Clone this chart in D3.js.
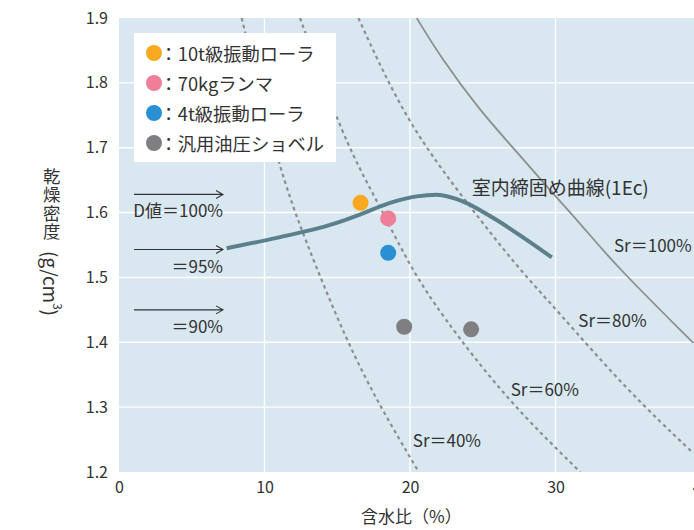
<!DOCTYPE html>
<html lang="ja">
<head>
<meta charset="utf-8">
<script src="https://cdn.jsdelivr.net/npm/d3@7"></script>
<style>
  html, body { margin: 0; padding: 0; background: #fff; }
  svg { display: block; }
  text { font-family: "Noto Sans CJK JP", "Noto Sans", sans-serif; fill: #333; }
</style>
</head>
<body>
<svg id="chart" width="694" height="530"></svg>
<script>
// Axis ticks
const xTicks = [0, 10, 20, 30, 40];
const yTicks = [1.2, 1.3, 1.4, 1.5, 1.6, 1.7, 1.8, 1.9];

// Saturation curves: [water content %, dry density g/cm3]
const sr100 = [[20.46, 1.9], [22.06, 1.841], [24.81, 1.757], [27.1, 1.70], [29.39, 1.640], [31.68, 1.584], [33.97, 1.522], [39.47, 1.399]];
const sr80 = [[16.45, 1.9], [19.77, 1.738], [24.12, 1.609], [27.33, 1.517], [30.08, 1.45], [34.89, 1.3265], [39.47, 1.229]];
const sr60 = [[12.44, 1.9], [14.96, 1.743], [16.56, 1.666], [17.94, 1.609], [20.0, 1.517], [22.06, 1.445], [26.65, 1.311], [31.7, 1.2]];
const sr40 = [[8.43, 1.9], [10.95, 1.671], [12.78, 1.558], [15.65, 1.401], [17.94, 1.301], [20.6, 1.2]];

// Laboratory compaction curve (1Ec)
const compaction = [[7.40, 1.545], [10.84, 1.561], [14.96, 1.584], [16.56, 1.597], [18.63, 1.615], [20.46, 1.625], [21.83, 1.6275], [23.66, 1.617], [25.73, 1.5915], [28.02, 1.558], [29.74, 1.531]];

// Field measurements by compaction equipment
const machines = ["10t級振動ローラ", "70kgランマ", "4t級振動ローラ", "汎用油圧ショベル"];
const machineColors = ["#f8a91f", "#ef7f99", "#2b90d3", "#7f7f82"];
const fieldPoints = [
  { m: 0, w: 16.6, d: 1.615 },
  { m: 1, w: 18.5, d: 1.591 },
  { m: 2, w: 18.5, d: 1.538 },
  { m: 3, w: 19.6, d: 1.424 },
  { m: 3, w: 24.2, d: 1.420 }
];

// Degree of compaction reference levels
const dLevels = [1.628, 1.543, 1.45];
const dLabels = ["D値＝100%", "＝95%", "＝90%"];

const svg = d3.select("#chart");
const x = d3.scaleLinear().domain([0, 40]).range([119, 701]);
const y = d3.scaleLinear().domain([1.2, 1.9]).range([472, 18]);

const plotW = x(40) - x(0), plotH = y(1.2) - y(1.9);

svg.append("defs").append("clipPath").attr("id", "plot-clip")
  .append("rect").attr("x", x(0)).attr("y", y(1.9)).attr("width", plotW).attr("height", plotH);

// Plot background
svg.append("rect").attr("x", x(0)).attr("y", y(1.9)).attr("width", plotW).attr("height", plotH)
  .attr("fill", "#d8e7f0");

// Grid
const grid = svg.append("g");
grid.selectAll(".gx").data(xTicks.filter(t => t > 0)).join("line")
  .attr("x1", d => x(d)).attr("x2", d => x(d)).attr("y1", y(1.9)).attr("y2", y(1.2))
  .attr("stroke", "#fff").attr("stroke-width", 1.4);
grid.selectAll(".gy").data(yTicks.filter(t => t > 1.2 && t < 1.9)).join("line")
  .attr("x1", x(0)).attr("x2", x(40)).attr("y1", d => y(d)).attr("y2", d => y(d))
  .attr("stroke", "#fff").attr("stroke-width", 1.4);

const smooth = d3.line().x(d => x(d[0])).y(d => y(d[1])).curve(d3.curveBasis);
const line = d3.line().x(d => x(d[0])).y(d => y(d[1])).curve(d3.curveMonotoneX);
const plot = svg.append("g").attr("clip-path", "url(#plot-clip)");

[sr80, sr60, sr40].forEach(c => {
  plot.append("path").attr("d", smooth(c)).attr("fill", "none")
    .attr("stroke", "#8d8d92").attr("stroke-width", 2.2).attr("stroke-dasharray", "3.5,3.5");
});
plot.append("path").attr("d", smooth(sr100)).attr("fill", "none")
  .attr("stroke", "#8e8e8e").attr("stroke-width", 1.8);

plot.append("path").attr("d", line(compaction)).attr("fill", "none")
  .attr("stroke", "#5b7f8b").attr("stroke-width", 4).attr("stroke-linecap", "butt");

// Axes
const xAxis = svg.append("g").attr("transform", `translate(0,${y(1.2)})`)
  .call(d3.axisBottom(x).tickValues(xTicks).tickSize(0).tickPadding(10).tickFormat(d3.format("d")));
const yAxis = svg.append("g").attr("transform", `translate(${x(0)},0)`)
  .call(d3.axisLeft(y).tickValues(yTicks).tickSize(0).tickPadding(11).tickFormat(d3.format(".1f")));
[xAxis, yAxis].forEach(a => {
  a.select(".domain").remove();
  a.selectAll("text").attr("font-size", 16).attr("fill", "#333")
    .style("font-family", "'Noto Sans CJK JP', sans-serif");
});

// Axis titles
svg.append("text").attr("x", 361).attr("y", 515).attr("dominant-baseline", "central")
  .attr("font-size", 17).text("含水比（%）");

const yTitle = svg.append("g");
yTitle.append("text").attr("x", 51.7).attr("y", 167.5)
  .style("writing-mode", "vertical-rl").style("letter-spacing", "1px")
  .attr("font-size", 17.4).text("乾燥密度");
const unit = yTitle.append("text").attr("transform", "translate(51.7,251) rotate(90)")
  .attr("dominant-baseline", "central").attr("font-size", 19);
unit.append("tspan").text("(g/cm");
unit.append("tspan").attr("font-size", 11.5).attr("dy", -6.5).text("3");
unit.append("tspan").attr("dy", 6.5).text(")");

// Degree of compaction arrows
const arrows = svg.append("g");
dLevels.forEach((lv, i) => {
  const yy = y(lv), x1 = 134, x2 = 223;
  arrows.append("path")
    .attr("d", `M${x1},${yy}H${x2}M${x2 - 7},${yy - 4}L${x2},${yy}L${x2 - 7},${yy + 4}`)
    .attr("fill", "none").attr("stroke", "#333").attr("stroke-width", 1.1);
  arrows.append("text").attr("x", x2).attr("y", yy + 15.5).attr("text-anchor", "end")
    .attr("dominant-baseline", "central").attr("font-size", 17).text(dLabels[i]);
});

// Curve labels
const labels = svg.append("g").attr("font-size", 17);
labels.append("text").attr("x", x(24.24)).attr("y", y(1.6403)).attr("dominant-baseline", "central")
  .attr("font-size", 19).text("室内締固め曲線(1Ec)");
[["Sr＝100%", 34.02, 1.5503], ["Sr＝80%", 31.57, 1.4346], ["Sr＝60%", 26.92, 1.3292], ["Sr＝40%", 20.19, 1.2494]]
  .forEach(([t, w, d]) => {
    labels.append("text").attr("x", x(w)).attr("y", y(d)).attr("dominant-baseline", "central").text(t);
  });

// Legend
const legend = svg.append("g");
legend.append("rect").attr("x", 134).attr("y", 33).attr("width", 202).attr("height", 129).attr("fill", "#fff");
machines.forEach((m, i) => {
  const cy = 53 + i * 30;
  legend.append("circle").attr("cx", 154).attr("cy", cy).attr("r", 8).attr("fill", machineColors[i]);
  legend.append("text").attr("x", 159.5).attr("y", cy).attr("dominant-baseline", "central")
    .attr("font-size", 18.3).text("：" + m);
});

// Field measurement points
svg.append("g").selectAll("circle").data(fieldPoints).join("circle")
  .attr("cx", d => x(d.w)).attr("cy", d => y(d.d)).attr("r", 8)
  .attr("fill", d => machineColors[d.m]);
</script>
</body>
</html>
